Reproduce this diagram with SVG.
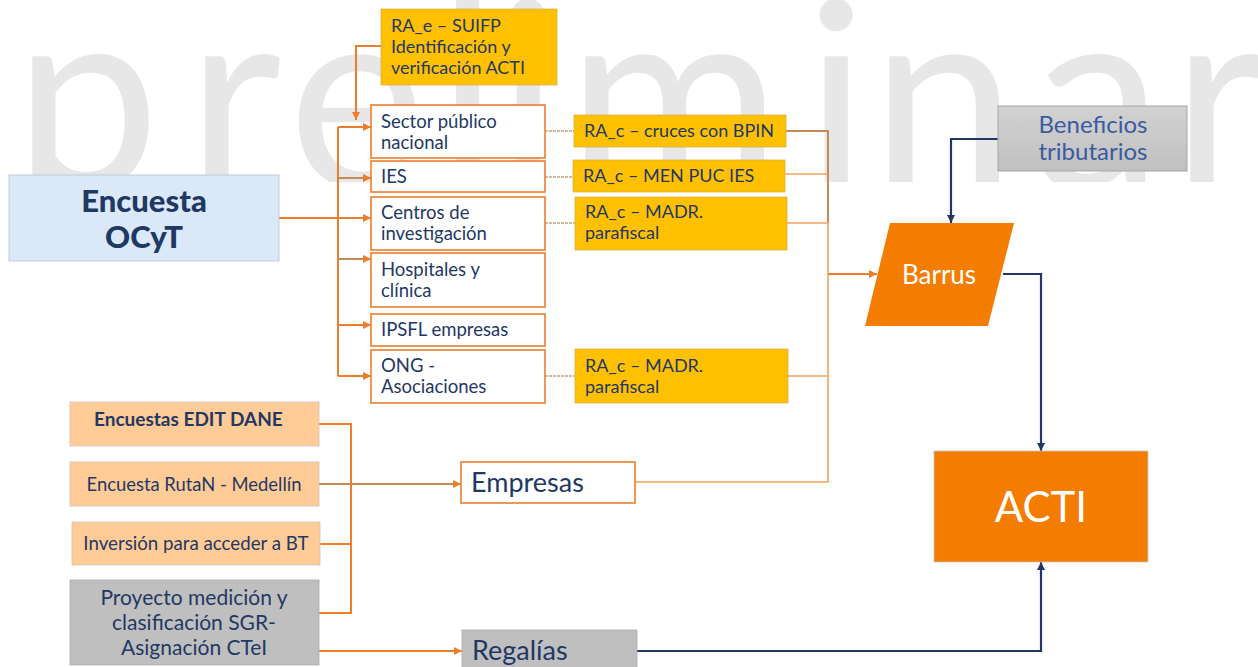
<svg xmlns="http://www.w3.org/2000/svg" width="1258" height="667" viewBox="0 0 1258 667">
<style>
  .t { font-family: Lato, "Noto Sans", "Liberation Sans", sans-serif; fill: #1F3864; }
  .sub { fill: #FFFFFF; stroke: #EE7D2B; stroke-width: 1.6; }
  .ra { fill: #FFC000; stroke: #D9B24A; stroke-width: 0.8; }
  .peach { fill: #FFCB96; stroke: #D0C4B8; stroke-width: 0.8; }
  .gray { fill: #BFBFBF; stroke: #ADADAD; stroke-width: 0.8; }
  .org { fill: none; stroke: #EE7D2B; stroke-width: 2; }
  .brn { fill: none; stroke: #C58A55; stroke-width: 2; }
  .lt { fill: none; stroke: #F4A35E; stroke-width: 1.6; }
  .dot { fill: none; stroke: #C9A080; stroke-width: 1.5; stroke-dasharray: 3 1; }
  .navy { fill: none; stroke: #1F3864; stroke-width: 2.2; }
</style>
<defs>
  <marker id="ao" viewBox="0 0 8 8" refX="8" refY="4" markerWidth="8" markerHeight="8" markerUnits="userSpaceOnUse" orient="auto">
    <path d="M0,0 L8,4 L0,8 z" fill="#EE7D2B"/>
  </marker>
  <marker id="an" viewBox="0 0 8 8" refX="8" refY="4" markerWidth="8" markerHeight="8" markerUnits="userSpaceOnUse" orient="auto">
    <path d="M0,0 L8,4 L0,8 z" fill="#1F3864"/>
  </marker>
  <linearGradient id="gb" x1="0" y1="0" x2="0" y2="1">
    <stop offset="0" stop-color="#D2D2D2"/>
    <stop offset="1" stop-color="#C0C0C0"/>
  </linearGradient>
  <clipPath id="wm"><rect x="0" y="0" width="1258" height="182"/></clipPath>
</defs>
<rect width="1258" height="667" fill="#FFFFFF"/>
<g id="watermark" clip-path="url(#wm)">
  <text x="14 187 288 437 497 567 805 871 1033 1172" y="188" font-family="Lato, 'Noto Sans', sans-serif" font-weight="400" font-size="260" fill="#E7E7E7">preliminar</text>
</g>

<g id="connectors">
  <path class="org" d="M279,218 H371" marker-end="url(#ao)"/>
  <path class="org" d="M338,127 V376"/>
  <path class="org" d="M338,127 H371" marker-end="url(#ao)"/>
  <path class="brn" d="M338,178 H371" marker-end="url(#ao)"/>
  <path class="brn" d="M338,259 H371" marker-end="url(#ao)"/>
  <path class="org" d="M338,325 H371" marker-end="url(#ao)"/>
  <path class="org" d="M338,376 H371" marker-end="url(#ao)"/>
  <path class="org" d="M381,46 H356 V120" marker-end="url(#ao)"/>
  <path class="dot" d="M545,131 H574"/>
  <path class="dot" d="M545,177 H573"/>
  <path class="dot" d="M545,223 H575"/>
  <path class="dot" d="M545,376 H575"/>
  <path class="brn" d="M786,131 H828 V223"/>
  <path class="lt" d="M785,174 H828"/>
  <path class="lt" d="M787,223 H828"/>
  <path class="lt" d="M828,223 V482 H635"/>
  <path class="lt" d="M788,376 H828"/>
  <path class="org" d="M828,274 H877" marker-end="url(#ao)"/>
  <path class="org" d="M319,424 H351 V613 H319"/>
  <path class="org" d="M320,544 H351"/>
  <path class="brn" d="M319,484 H461" marker-end="url(#ao)"/>
  <path class="org" d="M319,651 H462" marker-end="url(#ao)"/>
  <path class="navy" d="M998,139 H951 V223" marker-end="url(#an)"/>
  <path class="navy" d="M1003,274 H1041 V451" marker-end="url(#an)"/>
  <path class="navy" d="M636,651 H1041 V562" marker-end="url(#an)"/>
</g>

<g id="ocyt">
  <rect x="9" y="175" width="270" height="86" fill="#DAE8F7" stroke="#B4C2D2" stroke-width="0.8"/>
  <text class="t" x="144" y="212" text-anchor="middle" font-size="31" font-weight="900">Encuesta</text>
  <text class="t" x="144" y="248" text-anchor="middle" font-size="31" font-weight="900">OCyT</text>
</g>

<g id="ra-e">
  <rect class="ra" x="381" y="9" width="176" height="76"/>
  <text class="t" x="391" y="32" font-size="18">RA_e – SUIFP</text>
  <text class="t" x="391" y="53" font-size="18">Identificación y</text>
  <text class="t" x="391" y="74" font-size="18">verificación ACTI</text>
</g>

<g id="sector">
  <rect class="sub" x="371" y="105" width="174" height="53"/>
  <text class="t" x="381" y="128" font-size="18.5">Sector público</text>
  <text class="t" x="381" y="149" font-size="18.5">nacional</text>
</g>
<g id="ies">
  <rect class="sub" x="371" y="161" width="174" height="31"/>
  <text class="t" x="381" y="183" font-size="18.5">IES</text>
</g>
<g id="centros">
  <rect class="sub" x="371" y="197" width="174" height="53"/>
  <text class="t" x="381" y="219" font-size="18.5">Centros de</text>
  <text class="t" x="381" y="240" font-size="18.5">investigación</text>
</g>
<g id="hospitales">
  <rect class="sub" x="371" y="253" width="174" height="54"/>
  <text class="t" x="381" y="276" font-size="18.5">Hospitales y</text>
  <text class="t" x="381" y="297" font-size="18.5">clínica</text>
</g>
<g id="ipsfl">
  <rect class="sub" x="371" y="314" width="174" height="32"/>
  <text class="t" x="381" y="336" font-size="18.5">IPSFL empresas</text>
</g>
<g id="ong">
  <rect class="sub" x="371" y="350" width="174" height="53"/>
  <text class="t" x="381" y="372" font-size="18.5">ONG -</text>
  <text class="t" x="381" y="393" font-size="18.5">Asociaciones</text>
</g>

<g id="ra-bpin">
  <rect class="ra" x="574" y="115" width="212" height="32"/>
  <text class="t" x="584" y="137" font-size="18">RA_c – cruces con BPIN</text>
</g>
<g id="ra-men">
  <rect class="ra" x="573" y="160" width="212" height="32"/>
  <text class="t" x="583" y="182" font-size="18">RA_c – MEN PUC IES</text>
</g>
<g id="ra-madr1">
  <rect class="ra" x="575" y="197" width="212" height="53"/>
  <text class="t" x="585" y="218" font-size="18">RA_c – MADR.</text>
  <text class="t" x="585" y="239" font-size="18">parafiscal</text>
</g>
<g id="ra-madr2">
  <rect class="ra" x="575" y="349" width="213" height="54"/>
  <text class="t" x="585" y="372" font-size="18">RA_c – MADR.</text>
  <text class="t" x="585" y="393" font-size="18">parafiscal</text>
</g>

<g id="beneficios">
  <rect x="998" y="106" width="189" height="65" fill="url(#gb)" stroke="#A6A6A6" stroke-width="1"/>
  <text class="t" x="1093" y="133" text-anchor="middle" font-size="24" style="fill:#3A5BA0">Beneficios</text>
  <text class="t" x="1093" y="160" text-anchor="middle" font-size="24" style="fill:#3A5BA0">tributarios</text>
</g>

<g id="barrus">
  <polygon points="890,223 1014,223 988,326 865,326" fill="#F47C00"/>
  <text class="t" x="939" y="284" text-anchor="middle" font-size="26" style="fill:#FFFFFF">Barrus</text>
</g>

<g id="acti">
  <rect x="934" y="451" width="214" height="111" fill="#F47C00" stroke="#C8C8C8" stroke-width="0.8"/>
  <text class="t" x="1041" y="522" text-anchor="middle" font-size="42" style="fill:#FFFFFF">ACTI</text>
</g>

<g id="edit">
  <rect class="peach" x="70" y="402" width="249" height="44"/>
  <text class="t" x="94" y="426" font-size="19" font-weight="700">Encuestas EDIT DANE</text>
</g>
<g id="rutan">
  <rect class="peach" x="70" y="462" width="249" height="44"/>
  <text class="t" x="194" y="491" text-anchor="middle" font-size="18.4">Encuesta RutaN - Medellín</text>
</g>
<g id="inversion">
  <rect class="peach" x="72" y="522" width="248" height="43"/>
  <text class="t" x="196" y="550" text-anchor="middle" font-size="18.7">Inversión para acceder a BT</text>
</g>
<g id="proyecto">
  <rect class="gray" x="70" y="580" width="249" height="85"/>
  <text class="t" x="194" y="605" text-anchor="middle" font-size="21">Proyecto medición y</text>
  <text class="t" x="194" y="630" text-anchor="middle" font-size="21">clasificación SGR-</text>
  <text class="t" x="194" y="655" text-anchor="middle" font-size="21">Asignación CTeI</text>
</g>

<g id="empresas">
  <rect class="sub" x="461" y="462" width="174" height="41"/>
  <text class="t" x="471" y="492" font-size="27">Empresas</text>
</g>
<g id="regalias">
  <rect class="gray" x="462" y="630" width="175" height="40"/>
  <text class="t" x="472" y="660" font-size="27">Regalías</text>
</g>
</svg>
